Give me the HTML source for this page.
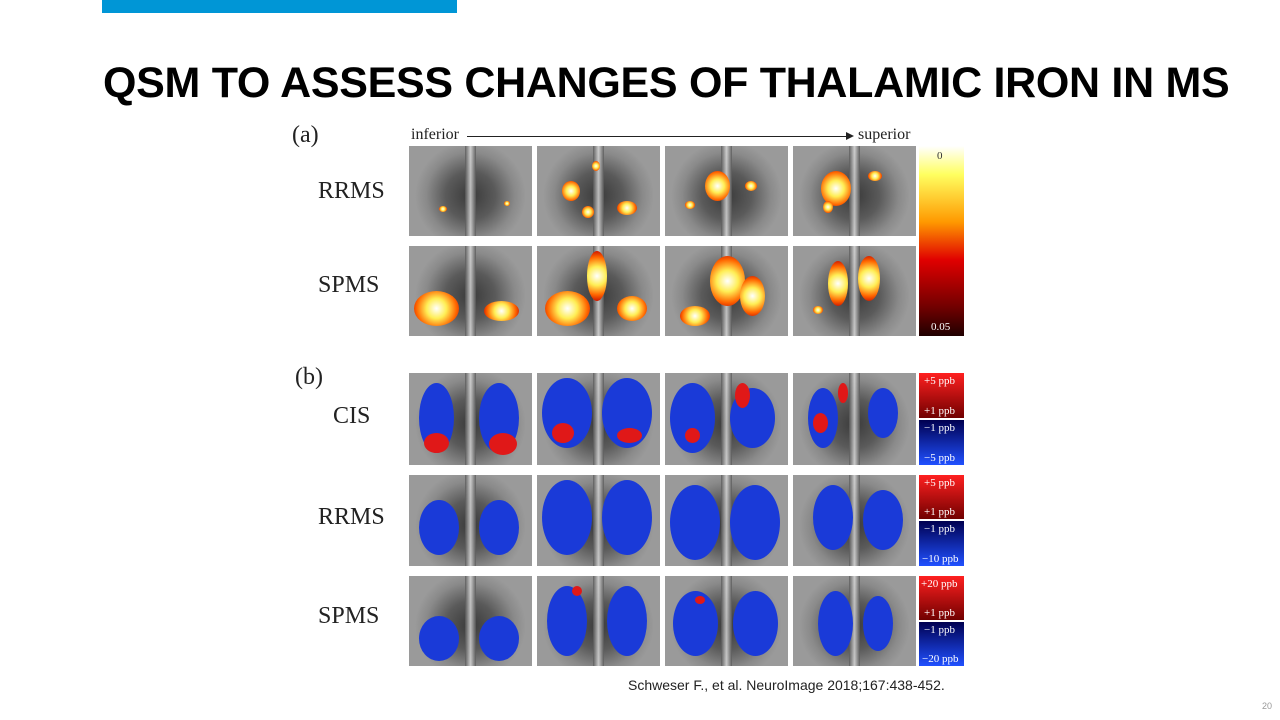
<!DOCTYPE html>
<html><head><meta charset="utf-8">
<style>
html,body{margin:0;padding:0;background:#fff;}
body{width:1280px;height:720px;position:relative;overflow:hidden;font-family:"Liberation Sans",sans-serif;}
.abs{position:absolute;}
.serif{font-family:"Liberation Serif",serif;color:#222;}
.panel{position:absolute;width:123px;overflow:hidden;background:radial-gradient(ellipse 45% 60% at 50% 55%,#3a3a3a 0%,#5a5a5a 45%,#8a8a8a 80%,#9a9a9a 100%);}
.panel .mid{position:absolute;left:56px;width:11px;top:0;bottom:0;background:linear-gradient(90deg,#555,#ddd,#555);opacity:.8}
.blob{position:absolute;border-radius:50%;}
.cb{position:absolute;left:919px;width:45px;font-family:"Liberation Serif",serif;font-size:11px;color:#fff;}
</style></head><body>
<div class="abs" style="left:102px;top:0;width:355px;height:13px;background:#0096d6"></div>
<div class="abs" style="left:103px;top:59px;font-size:43px;font-weight:bold;color:#000;white-space:nowrap;letter-spacing:-0.3px">QSM TO ASSESS CHANGES OF THALAMIC IRON IN MS</div>

<div class="abs serif" style="left:292px;top:122px;font-size:24px">(a)</div>
<div class="abs serif" style="left:411px;top:126px;font-size:16px">inferior</div>
<div class="abs" style="left:467px;top:136px;width:380px;height:1px;background:#222"></div>
<div class="abs" style="left:846px;top:132px;width:0;height:0;border-left:8px solid #222;border-top:4px solid transparent;border-bottom:4px solid transparent"></div>
<div class="abs serif" style="left:858px;top:126px;font-size:16px">superior</div>

<div class="abs serif" style="left:318px;top:178px;font-size:24px">RRMS</div>
<div class="abs serif" style="left:318px;top:272px;font-size:24px">SPMS</div>
<div class="abs serif" style="left:295px;top:364px;font-size:24px">(b)</div>
<div class="abs serif" style="left:333px;top:403px;font-size:24px">CIS</div>
<div class="abs serif" style="left:318px;top:504px;font-size:24px">RRMS</div>
<div class="abs serif" style="left:318px;top:603px;font-size:24px">SPMS</div>

<div class="cb" style="top:146px;height:190px;background:linear-gradient(#ffffff 0%,#ffff60 15%,#ff9900 40%,#e00000 60%,#700000 85%,#200000 100%)"><span style="position:absolute;left:18px;top:4px;color:#333">0</span><span style="position:absolute;left:12px;bottom:3px">0.05</span></div>

<div class="cb" style="top:373px;height:92px;">
 <div style="height:45px;background:linear-gradient(#ff2020,#700000);position:relative"><span style="position:absolute;left:5px;top:2px">+5 ppb</span><span style="position:absolute;left:5px;bottom:1px">+1 ppb</span></div>
 <div style="height:2px;background:#fff"></div>
 <div style="height:45px;background:linear-gradient(#000050,#2050ff);position:relative"><span style="position:absolute;left:5px;top:2px">−1 ppb</span><span style="position:absolute;left:5px;bottom:1px">−5 ppb</span></div></div>
<div class="cb" style="top:475px;height:91px;">
 <div style="height:44px;background:linear-gradient(#ff2020,#700000);position:relative"><span style="position:absolute;left:5px;top:2px">+5 ppb</span><span style="position:absolute;left:5px;bottom:1px">+1 ppb</span></div>
 <div style="height:2px;background:#fff"></div>
 <div style="height:45px;background:linear-gradient(#000050,#2050ff);position:relative"><span style="position:absolute;left:5px;top:2px">−1 ppb</span><span style="position:absolute;left:3px;bottom:1px">−10 ppb</span></div></div>
<div class="cb" style="top:576px;height:90px;">
 <div style="height:44px;background:linear-gradient(#ff2020,#700000);position:relative"><span style="position:absolute;left:2px;top:2px">+20 ppb</span><span style="position:absolute;left:5px;bottom:1px">+1 ppb</span></div>
 <div style="height:2px;background:#fff"></div>
 <div style="height:44px;background:linear-gradient(#000050,#2050ff);position:relative"><span style="position:absolute;left:5px;top:2px">−1 ppb</span><span style="position:absolute;left:3px;bottom:1px">−20 ppb</span></div></div>

<div class="abs" style="left:628px;top:677px;font-size:14px;color:#222">Schweser F., et al. NeuroImage 2018;167:438-452.</div>
<div class="abs" style="left:1262px;top:701px;font-size:9px;color:#999">20</div>

<script>
const colX=[409,537,665,793];
const rows=[{y:146,h:90},{y:246,h:90},{y:373,h:92},{y:475,h:91},{y:576,h:90}];
const HOT='radial-gradient(circle,#fff 0%,#ffee55 35%,#ff6600 70%,#c00000 100%)';
const RED='#e01818',BLUE='#1a3ad8';
const blobs=[
[0,0,30,60,8,6,0],[0,0,95,55,6,5,0],
[0,1,25,35,18,20,0],[0,1,45,60,12,12,0],[0,1,80,55,20,14,0],[0,1,55,15,8,10,0],
[0,2,40,25,25,30,0],[0,2,80,35,12,10,0],[0,2,20,55,10,8,0],
[0,3,28,25,30,35,0],[0,3,75,25,14,10,0],[0,3,30,55,10,12,0],
[1,0,5,45,45,35,0],[1,0,75,55,35,20,0],
[1,1,8,45,45,35,0],[1,1,50,5,20,50,0],[1,1,80,50,30,25,0],
[1,2,45,10,35,50,0],[1,2,15,60,30,20,0],[1,2,75,30,25,40,0],
[1,3,35,15,20,45,0],[1,3,65,10,22,45,0],[1,3,20,60,10,8,0],
[2,0,10,10,35,70,2],[2,0,70,10,40,70,2],[2,0,15,60,25,20,1],[2,0,80,60,28,22,1],
[2,1,5,5,50,70,2],[2,1,65,5,50,70,2],[2,1,15,50,22,20,1],[2,1,80,55,25,15,1],
[2,2,5,10,45,70,2],[2,2,65,15,45,60,2],[2,2,70,10,15,25,1],[2,2,20,55,15,15,1],
[2,3,15,15,30,60,2],[2,3,75,15,30,50,2],[2,3,45,10,10,20,1],[2,3,20,40,15,20,1],
[3,0,10,25,40,55,2],[3,0,70,25,40,55,2],
[3,1,5,5,50,75,2],[3,1,65,5,50,75,2],
[3,2,5,10,50,75,2],[3,2,65,10,50,75,2],
[3,3,20,10,40,65,2],[3,3,70,15,40,60,2],
[4,0,10,40,40,45,2],[4,0,70,40,40,45,2],
[4,1,10,10,40,70,2],[4,1,70,10,40,70,2],[4,1,35,10,10,10,1],
[4,2,8,15,45,65,2],[4,2,68,15,45,65,2],[4,2,30,20,10,8,1],
[4,3,25,15,35,65,2],[4,3,70,20,30,55,2]
];
rows.forEach((r,ri)=>colX.forEach((x,ci)=>{
 const p=document.createElement('div');
 p.className='panel';
 
 
 p.style.left=x+'px';p.style.top=r.y+'px';p.style.height=r.h+'px';
 const m=document.createElement('div');m.className='mid';p.appendChild(m);
 blobs.filter(b=>b[0]===ri&&b[1]===ci).forEach(b=>{
  const d=document.createElement('div');d.className='blob';
  
  
  d.style.left=b[2]+'px';d.style.top=b[3]+'px';d.style.width=b[4]+'px';d.style.height=b[5]+'px';
  d.style.background=b[6]===0?HOT:(b[6]===1?RED:BLUE);
  p.appendChild(d);
 });
 document.body.appendChild(p);
}));
</script>
</body></html>
